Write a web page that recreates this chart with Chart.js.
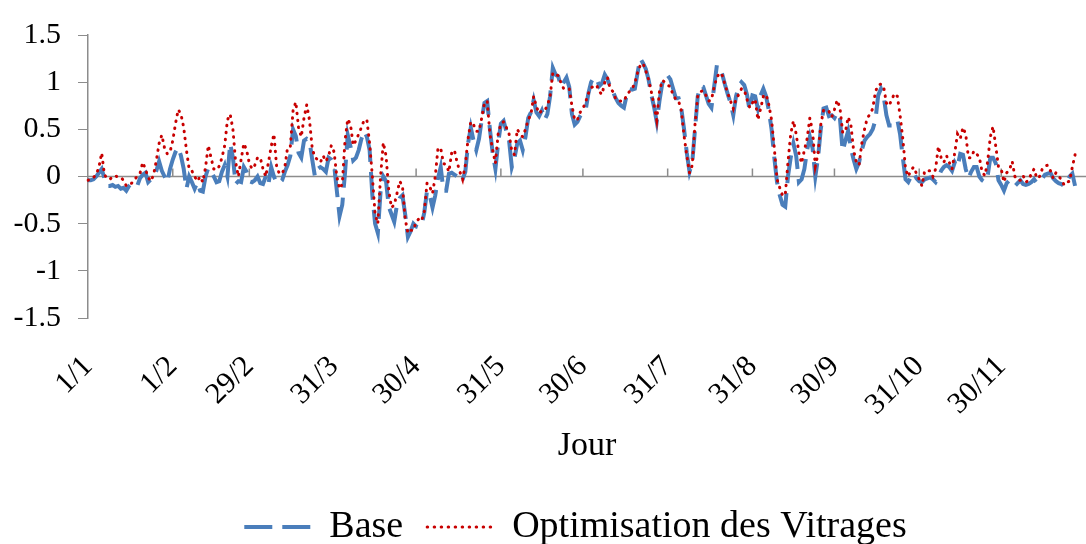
<!DOCTYPE html>
<html>
<head>
<meta charset="utf-8">
<script src="https://cdn.jsdelivr.net/npm/chart.js@4.4.1/dist/chart.umd.min.js"></script>
<style>
  html, body { margin: 0; padding: 0; background: #fff; }
</style>
</head>
<body>
<canvas id="graphique" width="1086" height="544"></canvas>
<script>
// Écart journalier - cas de base
const base = [
  -0.04,-0.04,-0.03,0.0,0.04,0.08,-0.02,-0.1,-0.1,-0.09,
  -0.11,-0.1,-0.13,-0.12,-0.15,-0.1,-0.07,-0.08,-0.1,-0.02,
  0.02,0.04,-0.06,-0.03,0.0,0.06,0.16,0.06,0.0,-0.06,
  0.08,0.18,0.26,0.31,0.22,0.08,-0.13,0.0,-0.06,-0.13,
  -0.06,-0.15,-0.16,0.0,0.09,0.05,0.0,-0.06,-0.05,
  0.05,0.12,0.0,0.35,0.2,-0.08,-0.05,-0.06,0.1,0.05,
  -0.05,-0.06,-0.04,0.0,-0.07,-0.08,0.0,-0.08,0.1,0.0,
  -0.07,-0.07,-0.04,0.05,0.12,0.22,0.5,0.43,0.25,0.2,
  0.38,0.4,0.38,0.18,0.0,0.08,0.1,0.08,0.05,0.2,
  0.18,0.13,-0.15,-0.42,-0.3,0.04,0.44,0.32,0.17,0.2,
  0.28,0.4,0.48,0.42,0.28,-0.2,-0.5,-0.6,-0.16,0.0,
  -0.05,-0.32,-0.4,-0.48,-0.3,-0.23,-0.2,-0.4,-0.64,-0.58,
  -0.5,-0.53,-0.54,-0.52,-0.38,-0.15,-0.2,-0.33,-0.2,-0.02,
  0.1,-0.15,-0.15,0.03,0.04,0.02,0.0,-0.06,-0.03,0.05,
  0.35,0.52,0.38,0.28,0.4,0.6,0.78,0.8,0.5,0.25,
  0.08,0.35,0.56,0.59,0.48,0.38,0.1,0.2,0.35,
  0.38,0.28,0.42,0.62,0.68,0.81,0.68,0.64,0.7,0.6,
  0.66,0.85,1.15,1.08,1.06,0.95,1.0,1.05,0.95,0.66,
  0.55,0.58,0.64,0.68,0.7,0.88,1.0,1.05,1.04,0.96,
  0.99,1.08,1.03,0.95,0.9,0.83,0.78,0.75,0.73,0.86,
  0.93,0.92,0.93,1.1,1.25,1.2,1.14,1.03,0.87,0.74,
  0.58,0.8,0.98,1.07,1.07,1.03,0.93,0.83,0.83,0.72,
  0.5,0.25,0.05,0.15,0.5,0.85,0.96,0.95,0.86,0.77,
  0.73,0.95,1.18,1.15,1.08,0.97,0.87,0.78,0.65,0.85,
  0.96,1.0,0.97,0.87,0.7,0.86,0.85,0.72,0.86,
  0.93,0.85,0.7,0.5,0.2,-0.06,-0.2,-0.3,-0.32,0.0,
  0.2,0.35,0.22,-0.06,-0.03,0.08,0.28,0.42,0.3,0.0,
  0.2,0.5,0.72,0.73,0.64,0.65,0.62,0.68,0.62,0.27,
  0.38,0.48,0.3,0.18,0.08,0.15,0.28,0.38,0.42,0.45,
  0.5,0.6,0.86,0.93,0.85,0.65,0.54,0.54,0.57,0.6,
  0.45,0.2,-0.03,-0.06,0.0,0.04,-0.02,-0.05,-0.06,-0.03,
  -0.02,-0.01,-0.03,-0.06,-0.01,0.06,0.1,0.12,0.1,0.06,
  0.15,0.1,0.24,0.23,0.08,-0.02,0.05,0.1,0.1,0.0,
  -0.04,-0.06,0.0,0.2,0.2,0.14,-0.04,-0.09,-0.15,-0.07,
  -0.04,-0.06,-0.1,-0.07,-0.04,-0.08,-0.09,-0.08,-0.06,
  -0.03,-0.07,-0.06,-0.02,0.02,0.03,0.04,-0.02,-0.05,-0.07,
  -0.08,-0.1,-0.05,0.0,0.03,-0.1
];

// Écart journalier - vitrages optimisés
const optimisation = [
  -0.04,-0.03,-0.01,0.02,0.10,0.25,0.02,-0.02,-0.03,0.0,
  0.01,-0.01,-0.01,-0.04,-0.1,-0.09,-0.07,-0.03,0.0,0.03,
  0.15,0.08,-0.01,-0.05,0.02,0.17,0.35,0.44,0.3,0.24,
  0.26,0.38,0.56,0.71,0.66,0.52,0.28,0.08,0.06,0.0,
  -0.05,0.0,-0.06,0.1,0.33,0.2,0.08,0.07,0.11,
  0.2,0.33,0.6,0.66,0.5,0.15,0.0,0.18,0.35,0.28,
  0.14,0.08,0.12,0.2,0.2,0.08,0.0,0.15,0.32,0.45,
  0.1,0.03,0.03,0.1,0.31,0.32,0.7,0.79,0.52,0.42,
  0.62,0.76,0.6,0.3,0.2,0.18,0.15,0.22,0.16,0.22,
  0.33,0.26,0.0,-0.13,-0.08,0.38,0.61,0.55,0.33,0.38,
  0.45,0.52,0.6,0.6,0.35,0.0,-0.4,-0.5,0.0,0.36,
  0.22,-0.15,-0.33,-0.3,-0.18,-0.05,-0.1,-0.45,-0.6,-0.57,
  -0.57,-0.48,-0.45,-0.47,-0.37,-0.07,-0.11,-0.18,0.0,0.3,
  0.3,0.14,0.12,0.05,0.25,0.28,0.15,0.05,-0.03,0.12,
  0.4,0.58,0.55,0.48,0.48,0.62,0.78,0.8,0.45,0.28,
  0.14,0.45,0.56,0.58,0.52,0.45,0.27,0.23,0.5,
  0.45,0.42,0.5,0.6,0.66,0.85,0.74,0.67,0.7,0.7,
  0.75,0.85,1.1,1.08,1.07,0.99,0.93,0.93,0.93,0.75,
  0.6,0.6,0.68,0.72,0.79,0.88,0.94,0.96,0.97,0.9,
  0.87,1.0,1.05,0.93,0.9,0.82,0.8,0.8,0.8,0.86,
  0.9,0.93,0.99,1.1,1.18,1.2,1.12,1.03,0.9,0.76,
  0.6,0.9,1.02,1.0,0.97,0.95,0.86,0.82,0.8,0.7,
  0.43,0.22,0.04,0.12,0.55,0.85,0.9,0.91,0.86,0.8,
  0.81,0.95,1.05,1.1,1.07,0.97,0.88,0.8,0.72,0.82,
  0.87,0.93,0.92,0.82,0.73,0.78,0.82,0.6,0.72,
  0.85,0.87,0.76,0.6,0.3,-0.03,-0.12,-0.2,-0.2,0.15,
  0.45,0.59,0.45,0.25,0.14,0.28,0.4,0.62,0.48,0.11,
  0.24,0.55,0.7,0.71,0.69,0.63,0.71,0.81,0.73,0.47,
  0.47,0.63,0.55,0.28,0.15,0.12,0.35,0.5,0.62,0.66,
  0.72,0.9,0.97,0.98,0.95,0.78,0.75,0.82,0.88,0.85,
  0.65,0.4,0.08,0.0,0.07,0.1,0.03,-0.03,-0.1,0.06,
  0.06,0.06,0.0,0.08,0.32,0.2,0.15,0.22,0.15,0.08,
  0.25,0.45,0.4,0.52,0.45,0.2,0.2,0.27,0.24,0.2,
  0.05,0.01,0.15,0.42,0.53,0.32,0.1,0.08,-0.06,0.04,
  0.07,0.16,0.0,-0.04,-0.04,0.01,-0.06,-0.04,0.03,
  0.08,-0.02,0.0,0.08,0.11,0.12,0.06,-0.02,0.04,0.0,
  -0.03,-0.09,-0.06,-0.05,0.1,0.23
];

// jours de l'année (bissextile) au format j/m
const jours = [];
for (let i = 0; i < 366; i++) {
  const d = new Date(2012, 0, 1 + i);
  jours.push(d.getDate() + '/' + (d.getMonth() + 1));
}

// dates écrites sous l'axe
const etiquettesJours = ['1/1', '1/2', '29/2', '31/3', '30/4', '31/5', '30/6', '31/7', '31/8', '30/9', '31/10', '30/11'];

const police = 'Liberation Serif';
const gris = '#8c8c8c';

// ligne du zéro et petites graduations posées dessus
const axeZero = {
  id: 'axeZero',
  beforeDatasetsDraw(chart) {
    const { ctx, chartArea, scales } = chart;
    const y0 = scales.y.getPixelForValue(0);
    ctx.save();
    ctx.strokeStyle = gris;
    ctx.lineWidth = 1.5;
    ctx.beginPath();
    ctx.moveTo(chartArea.left, y0);
    ctx.lineTo(chartArea.right, y0);
    etiquettesJours.slice(1).forEach((j) => {
      const x = scales.x.getPixelForValue(jours.indexOf(j));
      ctx.moveTo(x, y0);
      ctx.lineTo(x, y0 - 8);
    });
    ctx.stroke();
    ctx.restore();
  }
};

// recentre la légende sous la zone de tracé
const decalageLegende = {
  id: 'decalageLegende',
  afterLayout(chart) {
    chart.legend.left += 58;
  }
};

// la légende reprend le trait (tirets, pointillés) de chaque série
const legendeTraits = (chart) =>
  Chart.defaults.plugins.legend.labels.generateLabels(chart).map((item) => {
    const ds = chart.data.datasets[item.datasetIndex];
    item.lineDash = ds.borderDash;
    item.lineWidth = ds.borderWidth;
    item.lineCap = ds.borderCapStyle || 'butt';
    item.strokeStyle = ds.borderColor;
    return item;
  });

const ctx = document.getElementById('graphique').getContext('2d');
const chart = new Chart(ctx, {
  type: 'line',
  data: {
    labels: jours,
    datasets: [{
      label: 'Base',
      data: base,
      borderColor: '#4a7ebb',
      backgroundColor: '#4a7ebb',
      borderWidth: 4,
      borderDash: [28, 10],
      pointRadius: 0,
      tension: 0,
      order: 2
    }, {
      label: 'Optimisation des Vitrages',
      data: optimisation,
      borderColor: '#c80000',
      backgroundColor: '#c80000',
      borderWidth: 3,
      borderDash: [0.5, 6.5],
      borderCapStyle: 'round',
      pointRadius: 0,
      tension: 0,
      order: 1
    }]
  },
  options: {
    responsive: false,
    animation: false,
    layout: { padding: { top: 25, right: -7, left: 0, bottom: -12 } },
    plugins: {
      tooltip: { enabled: false },
      legend: {
        position: 'bottom',
        labels: {
          usePointStyle: true,
          pointStyle: 'line',
          pointStyleWidth: 66,
          color: '#000',
          padding: 24,
          font: { family: police, size: 38 },
          generateLabels: legendeTraits,
          sort: (a, b) => a.datasetIndex - b.datasetIndex
        }
      }
    },
    scales: {
      x: {
        grid: { display: false },
        border: { display: false },
        afterFit: (scale) => {
          scale.height = 166;
          scale.paddingLeft = 0;
          scale.paddingRight = 0;
        },
        ticks: {
          autoSkip: false,
          maxRotation: 45,
          minRotation: 45,
          padding: 23,
          labelOffset: 0,
          color: '#000',
          font: { family: police, size: 30 },
          callback: (v, i) => (etiquettesJours.includes(jours[i]) ? jours[i] : '')
        },
        title: {
          display: true,
          text: 'Jour',
          color: '#000',
          font: { family: police, size: 34 },
          padding: { top: 0, bottom: 18 }
        }
      },
      y: {
        min: -1.5,
        max: 1.5,
        afterFit: (scale) => { scale.width = 88; },
        grid: { drawOnChartArea: false, drawTicks: true, tickLength: 10, color: gris },
        border: { color: gris, width: 1.5 },
        ticks: {
          stepSize: 0.5,
          padding: 17,
          color: '#000',
          font: { family: police, size: 30 },
          callback: (v) => String(Number(v.toFixed(1)))
        }
      }
    }
  },
  plugins: [axeZero, decalageLegende]
});
</script>
</body>
</html>
